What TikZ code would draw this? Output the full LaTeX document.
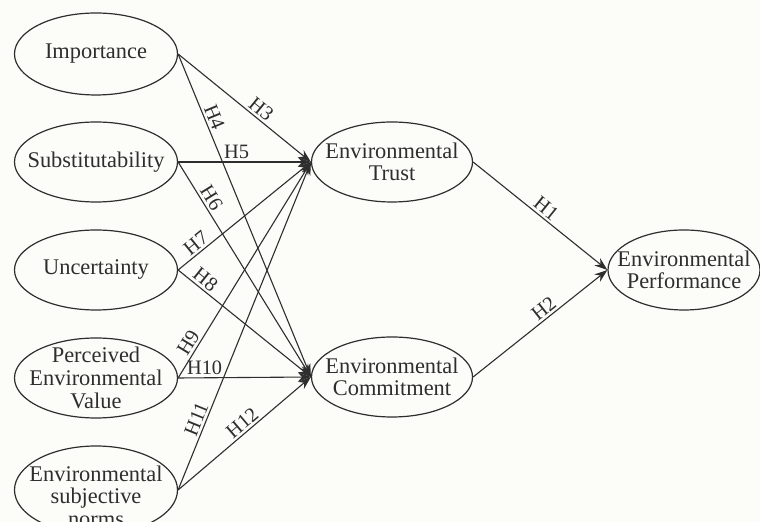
\documentclass[tikz,border=0pt]{standalone}
\usepackage{fontspec}
\setmainfont{Liberation Serif}
\usetikzlibrary{shapes.geometric,arrows.meta}
\definecolor{ink}{HTML}{2E2E2E}
\definecolor{bgc}{HTML}{FCFCF8}
\begin{document}
\begin{tikzpicture}[x=0.5pt,y=-0.5pt,
  var/.style={ellipse,draw=ink,line width=0.6pt,inner sep=0pt},
  txt/.style={align=center,text=ink,inner sep=0pt,
    font=\fontsize{11.2}{11.3}\selectfont},
  link/.style={draw=ink,line width=0.55pt,-{Stealth[length=6.5pt,width=4.6pt]}},
  hl/.style={sloped,above,font=\fontsize{10.2}{10.5}\selectfont,text=ink,inner sep=1.2pt}]
\useasboundingbox (0,0) rectangle (760,522);
\fill[bgc] (0,0) rectangle (760,522);
\clip (0,0) rectangle (760,522);
% left constructs
\node[var,minimum width=81.5pt,minimum height=41pt,label={[txt]center:Importance}] (imp) at (96,54) {};
\node[var,minimum width=81.5pt,minimum height=40pt,label={[txt]center:Substitutability}] (sub) at (96,162) {};
\node[var,minimum width=81.5pt,minimum height=40pt,label={[txt]center:Uncertainty}] (unc) at (96,270) {};
\node[var,minimum width=81.5pt,minimum height=40pt,label={[txt]center:Perceived\\Environmental\\Value}] (pev) at (96,378) {};
\node[var,minimum width=81.5pt,minimum height=44pt,label={[txt,yshift=-3pt]center:Environmental\\subjective\\norms}] (esn) at (96,490) {};
% mediators
\node[var,minimum width=80.5pt,minimum height=40pt,label={[txt]center:Environmental\\Trust}] (trust) at (392,162) {};
\node[var,minimum width=80.5pt,minimum height=40pt,label={[txt]center:Environmental\\Commitment}] (comm) at (392,377) {};
% outcome
\node[var,minimum width=76pt,minimum height=40pt,label={[txt]center:Environmental\\Performance}] (perf) at (684,270) {};
% paths
\draw[link] (imp.east) -- node[hl,pos=0.58] {H3} (trust.west);
\draw[link] (imp.east) -- node[hl,pos=0.207] {H4} (comm.west);
\draw[link] (sub.east) -- node[hl,pos=0.44] {H5} (trust.west);
\draw[link] (sub.east) -- node[hl,pos=0.19] {H6} (comm.west);
\draw[link] (unc.east) -- node[hl,pos=0.18] {H7} (trust.west);
\draw[link] (unc.east) -- node[hl,pos=0.16] {H8} (comm.west);
\draw[link] (pev.east) -- node[hl,pos=0.14] {H9} (trust.west);
\draw[link] (pev.east) -- node[hl,pos=0.2] {H10} (comm.west);
\draw[link] (esn.east) -- node[hl,pos=0.205] {H11} (trust.west);
\draw[link] (esn.east) -- node[hl,pos=0.53] {H12} (comm.west);
\draw[link] (trust.east) -- node[hl,pos=0.5] {H1} (perf.west);
\draw[link] (comm.east) -- node[hl,pos=0.57] {H2} (perf.west);
\end{tikzpicture}
\end{document}
